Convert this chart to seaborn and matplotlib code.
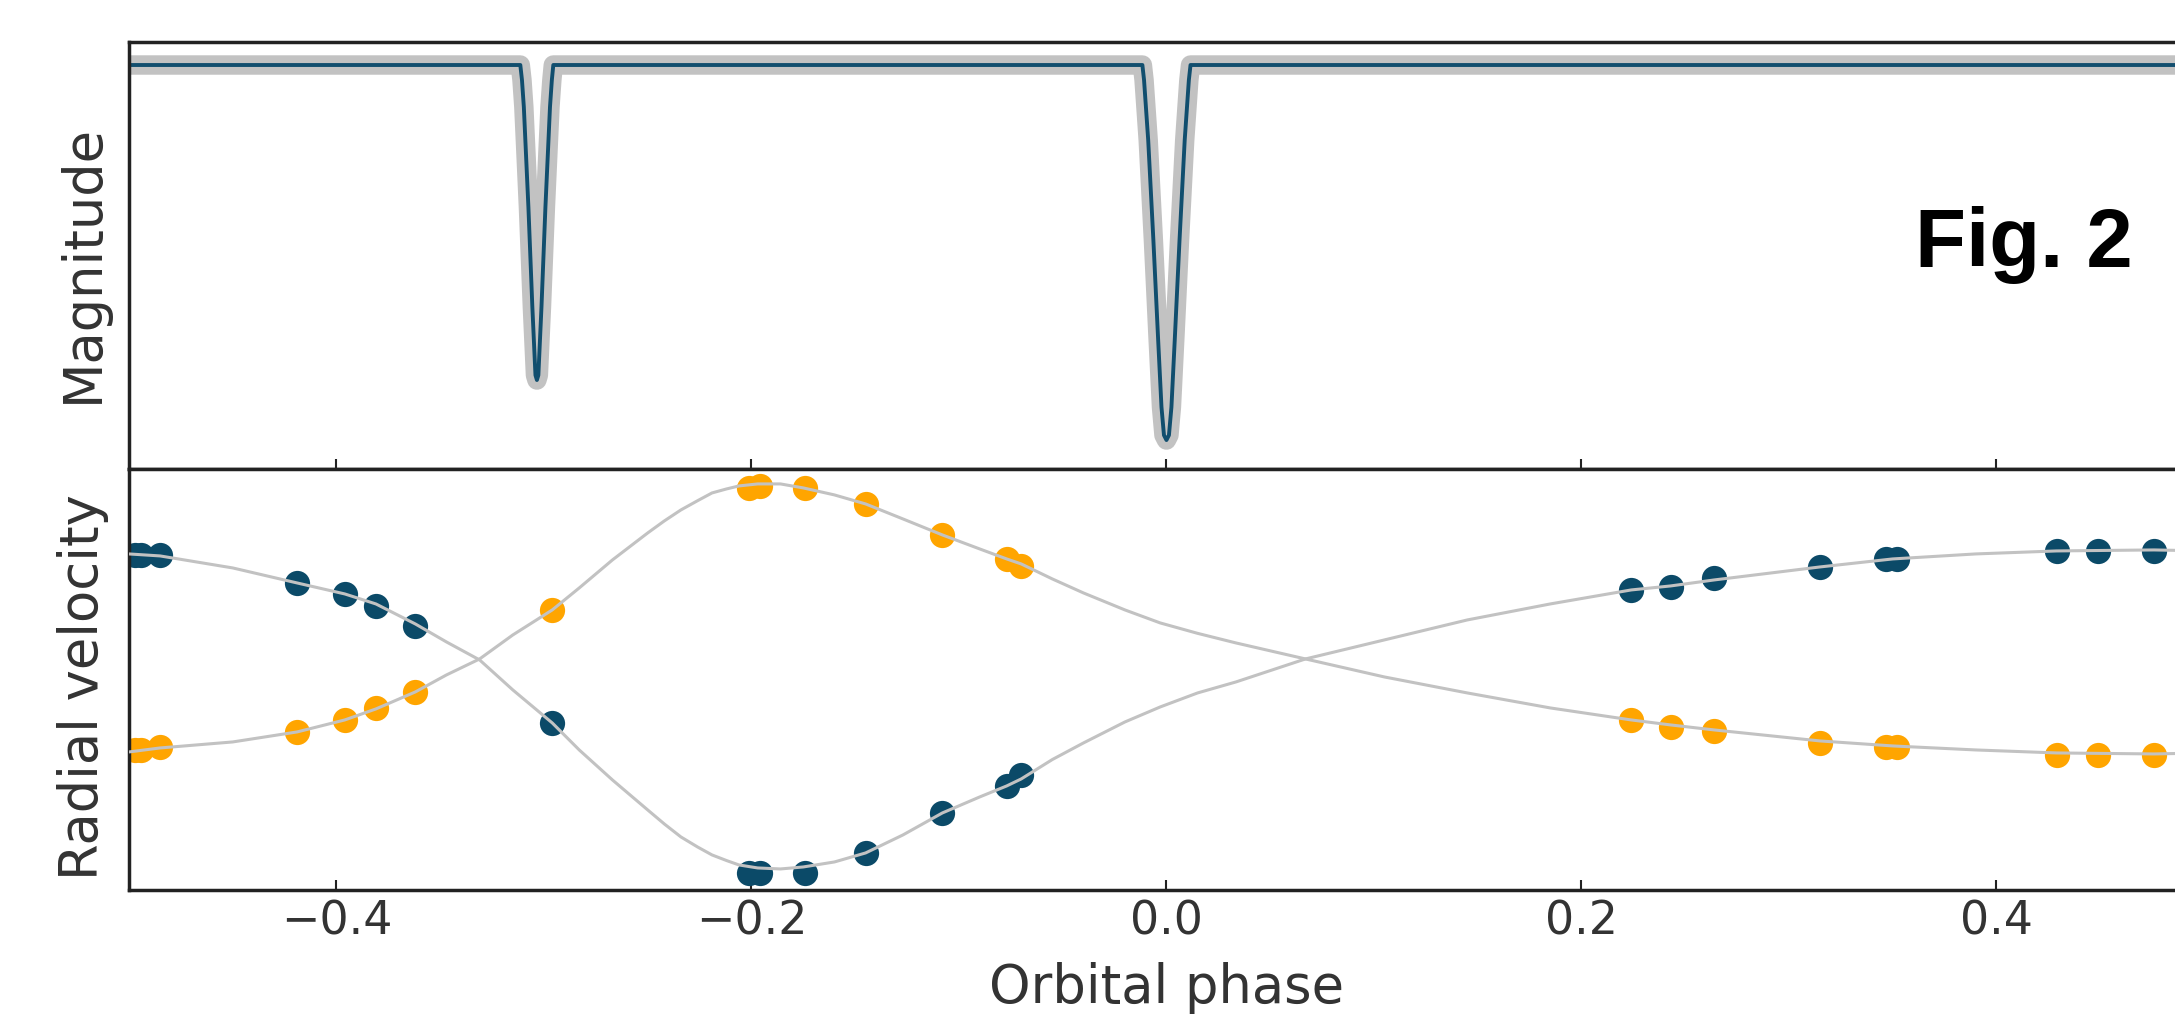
import numpy as np
import pandas as pd
import seaborn as sns
import matplotlib.pyplot as plt

sns.set_theme(style='white')
plt.rcParams['font.family'] = ['DejaVu Sans']

# light curve (phase, relative magnitude)
lc_phase = [-0.5, -0.3114, -0.3106, -0.3097, -0.3075, -0.3056, -0.3041, -0.3034,
            -0.3027, -0.3012, -0.2993, -0.2971, -0.2962, -0.2955,
            -0.0116, -0.0108, -0.0088, -0.0063, -0.0040, -0.0024, -0.0012, 0.0,
            0.0012, 0.0024, 0.0040, 0.0063, 0.0088, 0.0108, 0.0116, 0.5]
lc_mag = [0.0, 0.0, 0.04, 0.112, 0.379, 0.645, 0.827, 0.84,
          0.827, 0.645, 0.379, 0.112, 0.04, 0.0,
          0.0, 0.04, 0.2, 0.467, 0.733, 0.912, 0.987, 1.0,
          0.987, 0.912, 0.733, 0.467, 0.2, 0.04, 0.0, 0.0]

# radial velocity observations (same epochs for both stars)
rv_phase = [-0.497, -0.494, -0.485, -0.419, -0.396, -0.381, -0.362, -0.296,
            -0.201, -0.196, -0.174, -0.145, -0.108, -0.077, -0.070,
            0.224, 0.243, 0.264, 0.315, 0.347, 0.352, 0.429, 0.449, 0.476]
rv_primary = [62.5, 62.5, 62.5, 48.5, 43, 37, 27, -21.5,
              -96.5, -96.5, -96.5, -86.5, -66.5, -53, -47.5,
              45, 46.5, 51, 56.5, 60.5, 60.5, 64.5, 64.5, 64.5]
rv_secondary = [-35, -35, -33.5, -26, -20, -14, -6, 35,
                96, 97, 96, 88, 72.5, 60.5, 57,
                -20, -23.5, -25.5, -31.5, -33.5, -33.5, -37.5, -37.5, -37.5]

# model curves
model_phase = [-0.5, -0.485, -0.45, -0.419, -0.396, -0.381, -0.362, -0.347, -0.331,
               -0.315, -0.296, -0.283, -0.267, -0.25, -0.242, -0.234, -0.226, -0.219,
               -0.212, -0.206, -0.197, -0.186, -0.175, -0.16, -0.145, -0.127, -0.108,
               -0.09, -0.077, -0.07, -0.055, -0.04, -0.02, -0.003, 0.015, 0.0335,
               0.067, 0.105, 0.145, 0.185, 0.224, 0.243, 0.264, 0.315, 0.35, 0.39,
               0.429, 0.476, 0.5]
model_primary = [63, 62, 56, 48.5, 43, 38, 28, 19, 10,
                 -5, -21.5, -35, -50, -65, -72, -78.5, -83.5, -87.5,
                 -90.3, -92.5, -94, -94.5, -93.5, -91, -86.5, -77.5, -66.5,
                 -58.5, -53, -49.5, -39.8, -31.5, -21, -13.5, -6.5, -1,
                 10.5, 20, 30, 38, 45, 47, 50, 56.5, 60.5, 63,
                 64.5, 65, 64.5]
model_secondary = [-36, -34, -31, -26, -20, -14.5, -6, 2.5, 10.5,
                   22.5, 35, 46, 60, 73.5, 79.5, 85, 89.6, 93.5,
                   95.5, 97, 98, 98, 96, 92.5, 88, 80.5, 72.5,
                   65.5, 60.5, 58, 50.5, 43.5, 35, 28.5, 23.3, 18.5,
                   10.5, 1.5, -6.5, -14, -20, -22.5, -25, -30.5, -33, -35,
                   -36.5, -37, -36.5]

xticks = [-0.4, -0.2, 0.0, 0.2, 0.4]

blue = '#0b4a68'
orange = '#ffa500'
grey = '#c2c2c2'
text_col = '#333333'

lc = pd.DataFrame({'phase': lc_phase, 'mag': lc_mag})
rv = pd.DataFrame({'phase': rv_phase, 'v1': rv_primary, 'v2': rv_secondary})
model = pd.DataFrame({'phase': model_phase, 'v1': model_primary, 'v2': model_secondary})

fig = plt.figure(figsize=(21.75, 10.15), dpi=100)
ax_lc = fig.add_axes([0.0593, 0.5379, 0.954, 0.4207])
ax_rv = fig.add_axes([0.0593, 0.1232, 0.954, 0.4148])

# top panel: observations as a grey band, model on top
sns.lineplot(data=lc, x='phase', y='mag', ax=ax_lc, color=grey, lw=14,
             sort=False, estimator=None, solid_joinstyle='round')
sns.lineplot(data=lc, x='phase', y='mag', ax=ax_lc, color='#114e6e', lw=2.8,
             sort=False, estimator=None)
ax_lc.set_ylim(1.0773, -0.0613)
ax_lc.set_ylabel('Magnitude', fontsize=38, color=text_col)
ax_lc.yaxis.set_label_coords(-0.0095, 0.482)
ax_lc.set_xlabel('')

# bottom panel: radial velocities
sns.scatterplot(data=rv, x='phase', y='v1', ax=ax_rv, color=blue, s=330,
                linewidth=0, zorder=2)
sns.scatterplot(data=rv, x='phase', y='v2', ax=ax_rv, color=orange, s=330,
                linewidth=0, zorder=2)
sns.lineplot(data=model, x='phase', y='v1', ax=ax_rv, color=grey, lw=2.2,
             sort=False, estimator=None, zorder=3)
sns.lineplot(data=model, x='phase', y='v2', ax=ax_rv, color=grey, lw=2.2,
             sort=False, estimator=None, zorder=3)
ax_rv.set_ylim(-105, 105.5)
ax_rv.set_ylabel('Radial velocity', fontsize=38, color=text_col)
ax_rv.yaxis.set_label_coords(-0.0095, 0.482)
ax_rv.set_xlabel('Orbital phase', fontsize=38, color=text_col)
# keep the label inside the canvas (reference crops its descenders)
ax_rv.xaxis.set_label_coords(0.5, -0.172)

for ax in (ax_lc, ax_rv):
    ax.set_xlim(-0.5, 0.5)
    ax.set_xticks(xticks)
    ax.tick_params(axis='x', direction='in', length=7, width=1.5, bottom=True,
                   top=False, labelsize=33, pad=7, labelcolor=text_col,
                   color='#222222')
    ax.tick_params(axis='y', left=False, labelleft=False)
    for s in ax.spines.values():
        s.set_color('#222222')
        s.set_linewidth(2.5)

ax_lc.tick_params(axis='x', labelbottom=False)

fig.text(2133 / 2175, 1 - 267 / 1015, 'Fig. 2', ha='right', va='baseline',
         fontsize=60, fontweight='bold', family=['Liberation Sans', 'DejaVu Sans'],
         color='black')

fig.savefig('out.png', dpi=100)
